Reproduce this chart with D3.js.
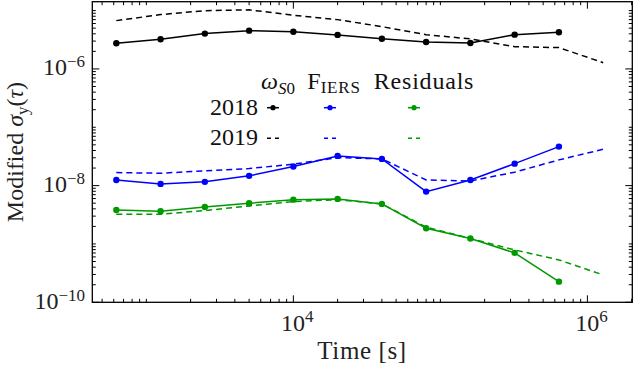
<!DOCTYPE html>
<html>
<head>
<meta charset="utf-8">
<script src="https://cdn.jsdelivr.net/npm/d3@7"></script>
<style>
  html, body { margin: 0; padding: 0; background: #fff; }
  svg { display: block; }
  text { font-family: 'Liberation Serif', 'Times New Roman', 'DejaVu Serif', serif; }
</style>
</head>
<body>
<div id="chart"></div>
<script>
// averaging times (s)
const tau2018 = [625, 1250, 2500, 5000, 1e4, 2e4, 4e4, 8e4, 1.6e5, 3.2e5, 6.4e5];
const tau2019 = [625, 1250, 2500, 5000, 1e4, 2e4, 4e4, 8e4, 1.6e5, 3.2e5, 6.4e5, 1.28e6];

// modified Allan deviation
const omega2018 = [2.75e-6, 3.23e-6, 4.03e-6, 4.53e-6, 4.35e-6, 3.83e-6, 3.30e-6, 2.90e-6, 2.79e-6, 3.87e-6, 4.26e-6];
const omega2019 = [6.73e-6, 8.53e-6, 9.97e-6, 1.03e-5, 8.32e-6, 7.0e-6, 5.31e-6, 3.87e-6, 3.27e-6, 2.41e-6, 2.32e-6, 1.28e-6];
const fiers2018 = [1.25e-8, 1.07e-8, 1.16e-8, 1.47e-8, 2.12e-8, 3.23e-8, 2.87e-8, 7.89e-9, 1.25e-8, 2.38e-8, 4.66e-8];
const fiers2019 = [1.67e-8, 1.63e-8, 1.79e-8, 1.96e-8, 2.33e-8, 3.02e-8, 2.87e-8, 1.25e-8, 1.20e-8, 1.70e-8, 2.76e-8, 4.2e-8];
const resid2018 = [3.83e-9, 3.64e-9, 4.32e-9, 4.99e-9, 5.75e-9, 5.92e-9, 4.86e-9, 1.86e-9, 1.24e-9, 7.03e-10, 2.26e-10];
const resid2019 = [3.24e-9, 3.24e-9, 3.73e-9, 4.49e-9, 5.32e-9, 5.75e-9, 4.86e-9, 1.94e-9, 1.24e-9, 7.91e-10, 5.33e-10, 2.95e-10];

const xMajorExp = [4, 6];
const yMajorExp = [-10, -8, -6];
const years = ['2018', '2019'];

const width = 633, height = 367;
const mLeft = 92.3, mRight = 632.3, mTop = 1.7, mBottom = 302.3;
const font = "'Liberation Serif', 'Times New Roman', 'DejaVu Serif', serif";

const svg = d3.select('#chart').append('svg')
  .attr('width', width)
  .attr('height', height)
  .attr('font-family', font);

const x = d3.scaleLog().domain([429, 2.02e6]).range([mLeft, mRight]);
const y = d3.scaleLog().domain([1e-10, 1.42e-5]).range([mBottom, mTop]);

const series = [
  { tau: tau2018, v: omega2018, color: '#000', dash: null },
  { tau: tau2019, v: omega2019, color: '#000', dash: '6,4' },
  { tau: tau2018, v: fiers2018, color: '#0000ff', dash: null },
  { tau: tau2019, v: fiers2019, color: '#0000ff', dash: '6,4' },
  { tau: tau2018, v: resid2018, color: '#009900', dash: null },
  { tau: tau2019, v: resid2019, color: '#009900', dash: '6,4' }
];

const line = d3.line().x(d => x(d[0])).y(d => y(d[1]));

const plot = svg.append('g');
series.forEach(s => {
  const pts = s.tau.map((t, i) => [t, s.v[i]]);
  plot.append('path')
    .datum(pts)
    .attr('d', line)
    .attr('fill', 'none')
    .attr('stroke', s.color)
    .attr('stroke-width', 1.5)
    .attr('stroke-dasharray', s.dash);
  if (!s.dash) {
    plot.selectAll(null)
      .data(pts)
      .join('circle')
      .attr('cx', d => x(d[0]))
      .attr('cy', d => y(d[1]))
      .attr('r', 3.2)
      .attr('fill', s.color);
  }
});

// ticks (inward, on all four sides)
const xMinor = [], yMinor = [];
for (let e = 2; e <= 6; e++) for (let k = 1; k <= 9; k++) {
  const v = k * Math.pow(10, e);
  if (v > x.domain()[0] && v < x.domain()[1] && !(k === 1 && xMajorExp.includes(e))) xMinor.push(v);
}
for (let e = -11; e <= -5; e++) for (let k = 1; k <= 9; k++) {
  const v = k * Math.pow(10, e);
  if (v > 1.0001e-10 && v < y.domain()[1] && !(k === 1 && yMajorExp.includes(e))) yMinor.push(v);
}
const ticks = svg.append('g').attr('stroke', '#000').attr('stroke-width', 1);
function xTick(v, len) {
  const px = x(v);
  ticks.append('line').attr('x1', px).attr('x2', px).attr('y1', mBottom).attr('y2', mBottom - len);
  ticks.append('line').attr('x1', px).attr('x2', px).attr('y1', mTop).attr('y2', mTop + len);
}
function yTick(v, len) {
  const py = y(v);
  ticks.append('line').attr('y1', py).attr('y2', py).attr('x1', mLeft).attr('x2', mLeft + len);
  ticks.append('line').attr('y1', py).attr('y2', py).attr('x1', mRight).attr('x2', mRight - len);
}
xMinor.forEach(v => xTick(v, 3.5));
yMinor.forEach(v => yTick(v, 3.5));
xMajorExp.forEach(e => xTick(Math.pow(10, e), 7));
yMajorExp.forEach(e => yTick(Math.pow(10, e), 7));

svg.append('rect')
  .attr('x', mLeft).attr('y', mTop)
  .attr('width', mRight - mLeft).attr('height', mBottom - mTop)
  .attr('fill', 'none').attr('stroke', '#000').attr('stroke-width', 1.3);

// tick labels
xMajorExp.forEach(e => {
  const t = svg.append('text')
    .attr('x', x(Math.pow(10, e)) + 4)
    .attr('y', 331)
    .attr('text-anchor', 'middle')
    .attr('font-size', 24)
    .attr('fill', '#222');
  t.append('tspan').text('10');
  t.append('tspan').attr('dy', -9).attr('font-size', 17).text(e);
});
yMajorExp.forEach(e => {
  const t = svg.append('text')
    .attr('x', 85)
    .attr('y', y(Math.pow(10, e)) + 6.5)
    .attr('text-anchor', 'end')
    .attr('font-size', 24)
    .attr('fill', '#222');
  t.append('tspan').text('10');
  t.append('tspan').attr('dy', -8).attr('font-size', 17).text('\u2212' + (-e));
});

// axis titles
svg.append('text')
  .attr('x', 362).attr('y', 359)
  .attr('text-anchor', 'middle')
  .attr('font-size', 25)
  .attr('letter-spacing', 0.6)
  .attr('fill', '#222')
  .text('Time [s]');

const yt = svg.append('text')
  .attr('transform', 'translate(23,152) rotate(-90)')
  .attr('text-anchor', 'middle')
  .attr('font-size', 24)
  .attr('fill', '#222');
yt.append('tspan').text('Modified ');
yt.append('tspan').attr('font-style', 'italic').text('\u03c3');
yt.append('tspan').attr('dy', 5).attr('font-size', 17).text('y');
yt.append('tspan').attr('dy', -5).text('(');
yt.append('tspan').attr('font-style', 'italic').text('\u03c4');
yt.append('tspan').text(')');

// legend: columns are quantities, rows are years
const leg = svg.append('g').attr('fill', '#111').attr('font-size', 24);
const colX = [273, 330, 414];
const rowY = [107.7, 138.3];

const h1 = leg.append('text').attr('x', 278).attr('y', 89).attr('text-anchor', 'middle');
h1.append('tspan').attr('font-style', 'italic').text('\u03c9');
h1.append('tspan').attr('dy', 5).attr('font-size', 17).attr('font-style', 'italic').text('S');
h1.append('tspan').attr('font-size', 17).text('0');

const h2 = leg.append('text').attr('x', 334).attr('y', 89).attr('text-anchor', 'middle');
h2.append('tspan').text('F');
h2.append('tspan').attr('dy', 4).attr('font-size', 17).attr('letter-spacing', 0.8).text('IERS');

leg.append('text').attr('x', 424).attr('y', 89).attr('text-anchor', 'middle')
  .attr('letter-spacing', 0.8).text('Residuals');

years.forEach((yr, r) => {
  leg.append('text').attr('x', 258).attr('y', rowY[r] + 7).attr('text-anchor', 'end').text(yr);
});

const colColors = ['#000', '#0000ff', '#009900'];
colColors.forEach((c, i) => {
  leg.append('line')
    .attr('x1', colX[i] - 6).attr('x2', colX[i] + 6)
    .attr('y1', rowY[0]).attr('y2', rowY[0])
    .attr('stroke', c).attr('stroke-width', 1.5);
  leg.append('circle').attr('cx', colX[i]).attr('cy', rowY[0]).attr('r', 2.6).attr('fill', c);
  leg.append('line')
    .attr('x1', colX[i] - 6).attr('x2', colX[i] + 6)
    .attr('y1', rowY[1]).attr('y2', rowY[1])
    .attr('stroke', c).attr('stroke-width', 1.5)
    .attr('stroke-dasharray', '4,4');
});
</script>
</body>
</html>
